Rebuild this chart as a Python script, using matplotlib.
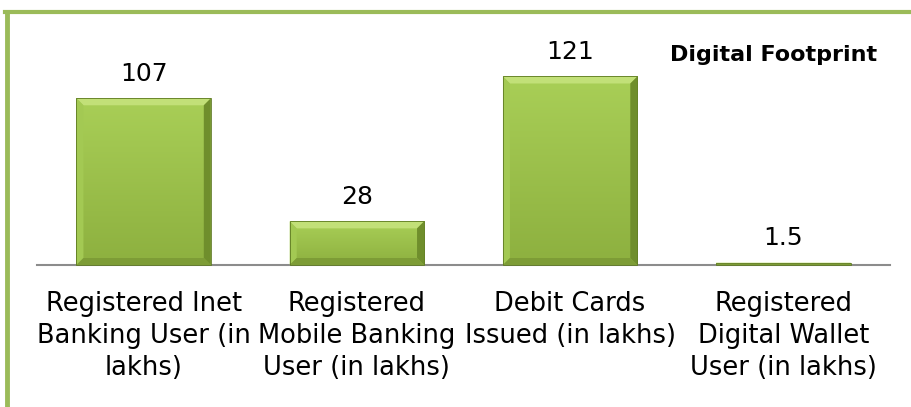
import numpy as np
import matplotlib.pyplot as plt
from matplotlib.patches import Polygon
from matplotlib.lines import Line2D
from matplotlib.transforms import IdentityTransform
from matplotlib.colors import LinearSegmentedColormap

categories = ['Registered Inet\nBanking User (in\nlakhs)',
              'Registered\nMobile Banking\nUser (in lakhs)',
              'Debit Cards\nIssued (in lakhs)',
              'Registered\nDigital Wallet\nUser (in lakhs)']
values = [107, 28, 121, 1.5]
value_labels = ['107', '28', '121', '1.5']

FONT = 'DejaVu Sans'
W, H = 912, 407

fig = plt.figure(figsize=(W / 100, H / 100), dpi=100)
ax = fig.add_axes([37 / W, 1 - 265 / H, 853 / W, 215 / H])

x = np.arange(len(values))
bars = ax.bar(x, values, width=0.63, color='#9CC24A', edgecolor='none', zorder=2)

# vertical gradient on each bar face
face = LinearSegmentedColormap.from_list('face', ['#8DB03F', '#A9CF57'])
grad = np.linspace(0, 1, 256).reshape(-1, 1)
for b in bars:
    x0 = b.get_x()
    im = ax.imshow(grad, extent=[x0, x0 + b.get_width(), 0, b.get_height()],
                   origin='lower', aspect='auto', cmap=face, zorder=3)
    im.set_clip_path(b)

ax.set_xlim(-0.5, 3.5)
ax.set_ylim(0, 138)
for s in ['left', 'right', 'top']:
    ax.spines[s].set_visible(False)
ax.spines['bottom'].set_color('#8c8c8c')
ax.spines['bottom'].set_linewidth(1.5)
ax.spines['bottom'].set_zorder(1)
ax.set_yticks([])
ax.set_xticks(x)
ax.set_xticklabels(categories, fontsize=18.5, family=FONT, linespacing=1.3)
ax.tick_params(axis='x', length=0, pad=19)

for xi, v, lab in zip(x, values, value_labels):
    ax.annotate(lab, (xi, v), xytext=(0, 9), textcoords='offset points',
                ha='center', va='bottom', fontsize=18, family=FONT)

fig.text(877 / W, 1 - 55 / H, 'Digital Footprint', ha='right', va='center',
         fontsize=16, fontweight='bold', family=FONT)

# bevelled edges, drawn in pixels around each bar
fig.canvas.draw()
for b in bars:
    bb = b.get_window_extent()
    x0, y0, x1, y1 = bb.x0, bb.y0, bb.x1, bb.y1
    e = min(7, (y1 - y0) / 2)
    sides = [
        ([(x0, y1), (x1, y1), (x1 - e, y1 - e), (x0 + e, y1 - e)], '#C2E078'),
        ([(x0, y0), (x0, y1), (x0 + e, y1 - e), (x0 + e, y0 + e)], '#A3C953'),
        ([(x1, y0), (x1, y1), (x1 - e, y1 - e), (x1 - e, y0 + e)], '#6F8E2C'),
        ([(x0, y0), (x1, y0), (x1 - e, y0 + e), (x0 + e, y0 + e)], '#7D9C36'),
    ]
    for pts, c in sides:
        fig.add_artist(Polygon(pts, closed=True, facecolor=c, edgecolor='none',
                               transform=IdentityTransform(), zorder=4))
    fig.add_artist(Polygon([(x0, y0), (x0, y1), (x1, y1), (x1, y0)], closed=True,
                           facecolor='none', edgecolor='#5E7A22', linewidth=0.6,
                           transform=IdentityTransform(), zorder=5))

# green frame along the top and left
fig.add_artist(Line2D([5 / W, 1], [1 - 12 / H, 1 - 12 / H], color='#9BBB59', linewidth=3))
fig.add_artist(Line2D([7.5 / W, 7.5 / W], [0, 1 - 12 / H], color='#9BBB59', linewidth=3.5))

fig.savefig('out.png', dpi=100)
